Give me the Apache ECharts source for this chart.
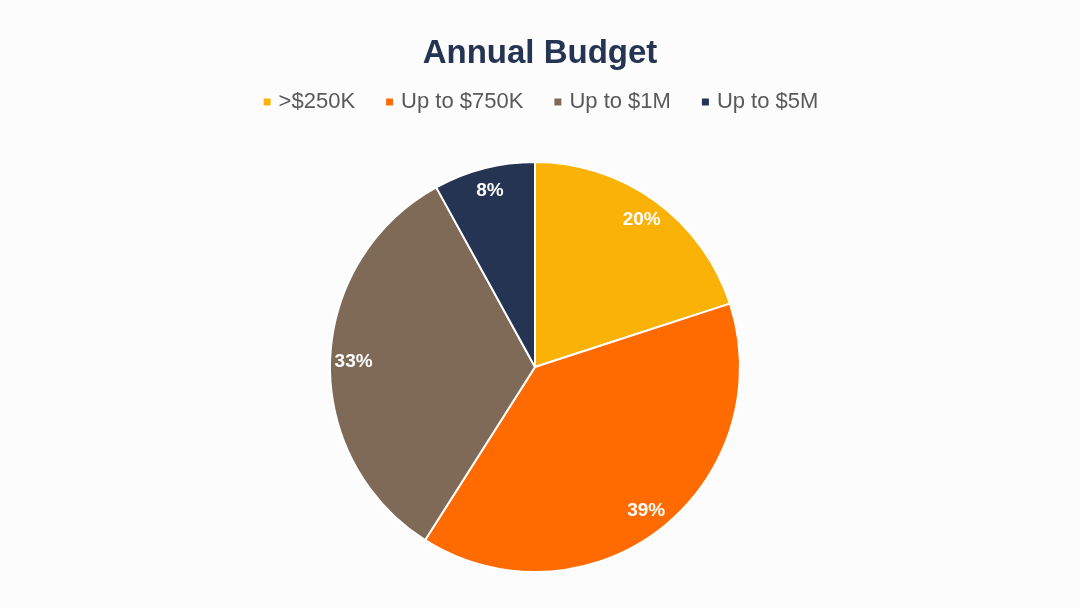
<!DOCTYPE html>
<html>
<head>
<meta charset="utf-8">
<script src="https://cdn.jsdelivr.net/npm/echarts@6/dist/echarts.min.js"></script>
<style>
html,body{margin:0;padding:0;background:#fcfcfc;}
#chart{width:1080px;height:608px;}
</style>
</head>
<body>
<div id="chart"></div>
<script>
const categories = ['>$250K', 'Up to $750K', 'Up to $1M', 'Up to $5M'];
const values = [20, 39, 33, 8];
const colors = ['#FBB207', '#FF6B00', '#7F6A57', '#243452'];

const data = categories.map((c, i) => ({ name: c, value: values[i], itemStyle: { color: colors[i] } }));
const labelData = categories.map((c, i) => ({ name: c, value: values[i] }));

const FONT = 'Liberation Sans, Arial, sans-serif';
const chart = echarts.init(document.getElementById('chart'));
chart.setOption({
  backgroundColor: '#fcfcfc',
  animation: false,
  title: {
    text: 'Annual Budget',
    left: 'center',
    top: 32,
    textStyle: { fontFamily: FONT, fontSize: 33, fontWeight: 'bold', color: '#243452' }
  },
  legend: {
    top: 86,
    left: 'center',
    icon: 'rect',
    itemWidth: 9,
    itemHeight: 9,
    itemGap: 29,
    textStyle: { fontFamily: FONT, fontSize: 22, color: '#595959', padding: [0, 0, 0, 2] },
    data: categories
  },
  series: [
    {
      type: 'pie',
      center: [535, 367],
      radius: [0, 205],
      startAngle: 90,
      clockwise: true,
      label: { show: false },
      labelLine: { show: false },
      itemStyle: { borderColor: '#ffffff', borderWidth: 2 },
      data: data
    },
    {
      type: 'pie',
      center: [535, 367],
      radius: [152, 205],
      startAngle: 90,
      clockwise: true,
      silent: true,
      legendHoverLink: false,
      itemStyle: { color: 'rgba(0,0,0,0)' },
      label: {
        show: true,
        position: 'inside',
        formatter: '{c}%',
        color: '#ffffff',
        fontFamily: FONT,
        fontSize: 19,
        fontWeight: 'bold'
      },
      labelLine: { show: false },
      data: labelData
    }
  ]
});
</script>
</body>
</html>
